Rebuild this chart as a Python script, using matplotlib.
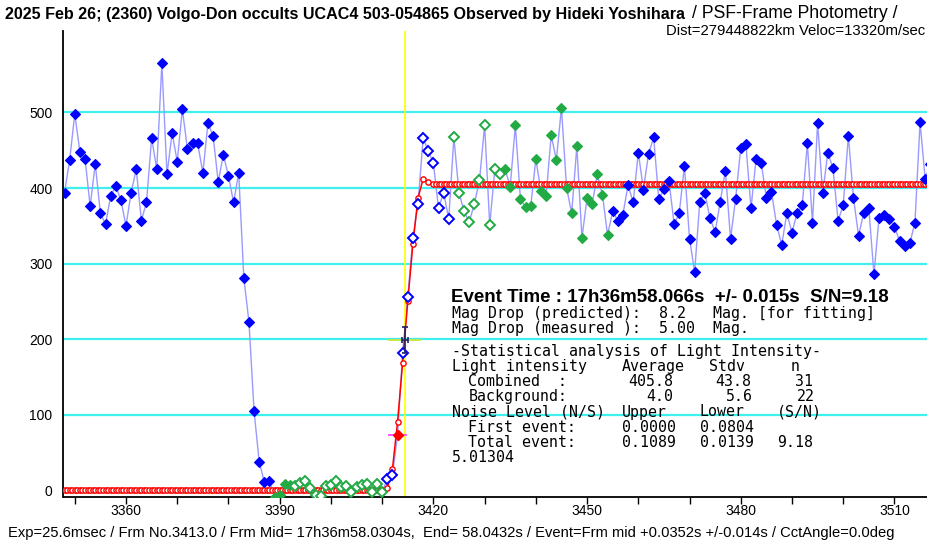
import numpy as np
import matplotlib
matplotlib.use("Agg")
import matplotlib.pyplot as plt
from matplotlib import font_manager as fm

# ---------------- data ----------------
frame_start = 3348
intensity = [
    # 3348-3388 (before event, blue)
    394, 437, 498, 448, 439, 376, 432, 367, 352, 389, 403, 384, 350, 394, 425,
    357, 381, 466, 425, 565, 418, 473, 435, 504, 451, 459, 459, 420, 486, 469,
    408, 444, 416, 381, 420, 281, 223, 105, 38, 11, 12,
    # 3389-3410 (background, green)
    -8, -6, 8, 7, 6, 9.5, 12, 3, -6, -7, 6, 7, 13, 4, 6, -2, 4, 7, 8.6, -2, 8, -2,
    # 3411-3423 (event, blue open)
    15, 20, 73, 182, 256, 334, 379, 466, 449, 433, 373, 394, 359,
    # 3424-3454 (combined, green)
    467, 394, 369, 355, 379, 410, 483, 351, 425, 419, 425, 402, 483, 385, 375,
    376, 438, 396, 389, 470, 437, 506, 400, 367, 455, 334, 387, 379, 418, 391, 338,
    # 3455-3517 (after, blue)
    369, 357, 365, 404, 381, 447, 398, 445, 467, 385, 399, 409, 352, 367, 429,
    333, 289, 382, 393, 360, 342, 382, 423, 333, 386, 453, 458, 373, 439, 433,
    387, 395, 351, 325, 367, 341, 367, 377, 459, 354, 486, 393, 447, 426, 357,
    377, 469, 387, 337, 367, 373, 286, 361, 364, 359, 349, 330, 323, 327, 354,
    487, 412, 432,
]
bg_first, bg_last = 3389, 3410
comb_first, comb_last = 3424, 3454
fit_first, fit_last = 3393, 3433
event_data_frame = 3413

event_frame = 3414.375
event_frame_err = 0.586
event_level = 199
event_level_err = 17

model_bottom = 0.0
model_top = 405.8
model_rise_frames = [3410, 3411, 3412, 3413, 3414, 3415, 3416, 3417, 3418, 3419]
model_rise_values = [1, 3, 28, 90, 169, 250, 326, 387, 412, 408]

ytick_values = [0, 100, 200, 300, 400, 500]
xtick_labels = [3360, 3390, 3420, 3450, 3480, 3510]
xminor_step = 10

title_bold = "2025 Feb 26; (2360) Volgo-Don occults UCAC4 503-054865 Observed by Hideki Yoshihara"
title_rest = "/ PSF-Frame Photometry /"
title_line2 = "Dist=279448822km Veloc=13320m/sec"
footer = ("Exp=25.6msec / Frm No.3413.0 / Frm Mid= 17h36m58.0304s,  End= 58.0432s / "
          "Event=Frm mid +0.0352s +/-0.014s / CctAngle=0.0deg")
event_line = "Event Time : 17h36m58.066s  +/- 0.015s  S/N=9.18"

# ---------------- fonts ----------------
names = {f.name for f in fm.fontManager.ttflist}
NARROW = "Liberation Sans Narrow" if "Liberation Sans Narrow" in names else "Liberation Sans"
MONO = "DejaVu Sans Mono"
BOLDSANS = "Liberation Sans"

W, H = 928, 542
fig = plt.figure(figsize=(W / 100, H / 100), dpi=100)
fig.patch.set_facecolor("white")

AX_L, AX_R, AX_T, AX_B = 63.5, 928, 31, 497
ax = fig.add_axes([AX_L / W, 1 - AX_B / H, (AX_R - AX_L) / W, (AX_B - AX_T) / H])
ax.set_xlim(3347.8, 3516.55)
ax.set_ylim(-8.6, 607.7)

for s in ["top", "right"]:
    ax.spines[s].set_visible(False)
for s in ["left", "bottom"]:
    ax.spines[s].set_color("black")
    ax.spines[s].set_linewidth(1.3)

# grid
for v in ytick_values[1:]:
    ax.axhline(v, color="#3ff0f0", lw=1.6, zorder=1)

frames = frame_start + np.arange(len(intensity))
y = np.array(intensity, dtype=float)

# connecting line
ax.plot(frames, y, color="#9a9aff", lw=1.0, zorder=2)

# model curve
bottom_x = np.arange(frame_start, model_rise_frames[0], 0.5)
top_x = np.arange(model_rise_frames[-1] + 1, frames[-1] + 1, 0.5)
mx = np.concatenate([bottom_x, model_rise_frames, top_x])
my = np.concatenate([np.full(len(bottom_x), model_bottom), model_rise_values,
                     np.full(len(top_x), model_top)])
ax.plot(mx, my, color="red", lw=1.1, zorder=3)
ax.plot(mx, my, ls="none", marker="o", ms=3.8, mfc="white", mec="red", mew=1.0, zorder=4)

# markers
BLUE = "#0000ff"
GREEN = "#22aa44"
in_bg = (frames >= bg_first) & (frames <= bg_last)
in_comb = (frames >= comb_first) & (frames <= comb_last)
in_fit = (frames >= fit_first) & (frames <= fit_last)
green = in_bg | in_comb
is_event = frames == event_data_frame

def mark(mask, color, filled):
    if filled:
        ax.plot(frames[mask], y[mask], ls="none", marker="D", ms=5.4, mfc=color, mec=color,
                mew=0.8, zorder=5)
    else:
        ax.plot(frames[mask], y[mask], ls="none", marker="D", ms=4.6, mfc="white", mec=color,
                mew=1.4, zorder=5)

mark(~green & ~in_fit, BLUE, True)
mark(green & ~in_fit, GREEN, True)
mark(~green & in_fit & ~is_event, BLUE, False)
mark(green & in_fit, GREEN, False)

# event frame data point
ev_val = y[is_event][0]
ax.plot([event_data_frame - 1.7, event_data_frame + 1.7], [ev_val, ev_val], color="#ff40ff", lw=1.3, zorder=6)
ax.plot([event_data_frame], [ev_val], ls="none", marker="D", ms=5.5, mfc="red", mec="red", zorder=7)

# event time marker
ax.axvline(event_frame, color="#ffff00", lw=1.2, zorder=2.5)
ax.plot([event_frame - 3, event_frame + 3], [event_level, event_level], color="#c8e63c", lw=1.3, zorder=6)
ax.errorbar([event_frame], [event_level], xerr=[event_frame_err], yerr=[event_level_err],
            fmt="none", ecolor="#20206a", elinewidth=1.2, capsize=2.5, capthick=1.2, zorder=7)

# ticks
ax.set_yticks(ytick_values)
ax.set_yticklabels([str(v) for v in ytick_values], family=NARROW, fontsize=10)
ax.tick_params(axis="y", length=0, pad=8)
ax.set_xticks(xtick_labels)
ax.set_xticklabels([str(v) for v in xtick_labels], family=NARROW, fontsize=10)
minor = [v for v in range(3350, 3517, xminor_step) if v not in xtick_labels]
ax.set_xticks(minor, minor=True)
ax.tick_params(axis="x", which="both", length=5, width=1, direction="out", pad=0, color="black")

# ---------------- texts ----------------
def put(xp, yp, s, **kw):
    kw.setdefault("va", "center")
    return fig.text(xp / W, 1 - yp / H, s, **kw)

fits = []
t = put(5, 14, title_bold, family=NARROW, weight="bold", fontsize=11)
fits.append((t, 680))
t = put(692, 14, title_rest, family=NARROW, fontsize=11)
fits.append((t, 205))
t = put(925, 31, title_line2, family=NARROW, fontsize=11, ha="right")
fits.append((t, 257))
t = put(8, 533, footer, family=NARROW, fontsize=11)
fits.append((t, 877))
t = put(451, 298, event_line, family=BOLDSANS, weight="bold", fontsize=11)
fits.append((t, 438))

mono_fs = 10.7
rows = [
    (313.3, [(451.7, "Mag Drop (predicted):  8.2   Mag. [for fitting]", "left")]),
    (328.3, [(451.7, "Mag Drop (measured ):  5.00  Mag.", "left")]),
    (351.7, [(451.7, "-Statistical analysis of Light Intensity-", "left")]),
    (366.7, [(451.7, "Light intensity", "left"), (621.7, "Average", "left"),
             (709.3, "Stdv", "left"), (800, "n", "right")]),
    (381.7, [(468.3, "Combined  :", "left"), (673.3, "405.8", "right"),
             (751.7, "43.8", "right"), (813.3, "31", "right")]),
    (396.7, [(468.3, "Background:", "left"), (673.3, "4.0", "right"),
             (753.3, "5.6", "right"), (815, "22", "right")]),
    (412.0, [(451.7, "Noise Level (N/S)", "left"), (621.7, "Upper", "left"),
             (700, "Lower", "left"), (776.7, "(S/N)", "left")]),
    (427.0, [(468.3, "First event:", "left"), (621.7, "0.0000", "left"),
             (700, "0.0804", "left")]),
    (442.3, [(468.3, "Total event:", "left"), (621.7, "0.1089", "left"),
             (700, "0.0139", "left"), (776.7, "9.18", "left")]),
    (457.0, [(451.7, "5.01304", "left")]),
]
for yp, segs in rows:
    for xp, s, ha in segs:
        put(xp, yp, s, family=MONO, fontsize=mono_fs, ha=ha)

fig.canvas.draw()
r = fig.canvas.get_renderer()
for t, target in fits:
    w = t.get_window_extent(r).width
    t.set_fontsize(t.get_fontsize() * target / w)

fig.savefig("out.png", dpi=100, facecolor="white")
